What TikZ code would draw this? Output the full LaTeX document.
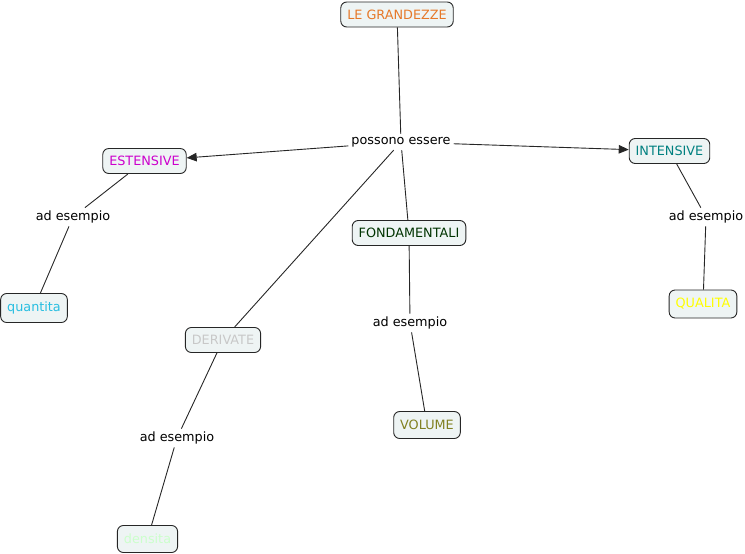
\documentclass[tikz,border=0pt]{standalone}
\usepackage{fontspec}
\setmainfont{DejaVu Sans}
\usepackage{xcolor}
\usepackage{tikz}
\usetikzlibrary{arrows.meta, positioning}

\definecolor{boxfill}{RGB}{238,244,244}
\definecolor{grandezzecol}{RGB}{230,120,40}
\definecolor{estensivecol}{RGB}{204,0,204}
\definecolor{quantitacol}{RGB}{40,190,225}
\definecolor{derivatecol}{RGB}{200,200,200}
\definecolor{densitacol}{RGB}{204,255,204}
\definecolor{fondamcol}{RGB}{0,51,0}
\definecolor{volumecol}{RGB}{128,128,32}
\definecolor{intensivecol}{RGB}{0,128,128}
\definecolor{qualitacol}{RGB}{255,255,0}

\begin{document}
\begin{tikzpicture}[
        x=1pt, y=-1pt,
        concept/.style={
            rectangle, draw=black!85, line width=0.9pt, fill=boxfill,
            rounded corners=6pt, inner xsep=6.5pt,
            minimum height=25pt, font=\fontsize{12.8}{15}\selectfont
        },
        linkword/.style={
            inner sep=3pt, font=\fontsize{12.8}{15}\selectfont
        },
        line/.style={draw=black!85, line width=0.9pt},
        arrow/.style={line, -{Triangle[length=10pt,width=8.5pt]}}
    ]
    \useasboundingbox (0,0) rectangle (745,554);

    % CONCEPTS
    \node[concept, text=grandezzecol] (grandezze) at (397,14.5) {LE GRANDEZZE};
    \node[concept, text=estensivecol] (estensive) at (144.5,161) {ESTENSIVE};
    \node[concept, text=intensivecol] (intensive) at (669.5,151) {INTENSIVE};
    \node[concept, text=fondamcol] (fondamentali) at (409,233) {FONDAMENTALI};
    \node[concept, text=derivatecol] (derivate) at (223,340) {DERIVATE};
    \node[concept, text=quantitacol, minimum height=29pt] (quantita) at (34,308) {quantita};
    \node[concept, text=qualitacol, minimum height=28pt] (qualita) at (703,304) {QUALITA};
    \node[concept, text=volumecol, minimum height=27pt] (volume) at (427,425) {VOLUME};
    \node[concept, text=densitacol, minimum height=27pt] (densita) at (147.5,539) {densita};

    % LINKING PHRASES
    \node[linkword] (possono) at (401,142) {possono essere};
    \node[linkword] (esestensive) at (73,217) {ad esempio};
    \node[linkword] (esfondam) at (410,323) {ad esempio};
    \node[linkword] (esderivate) at (177,438) {ad esempio};
    \node[linkword] (esintensive) at (706,217) {ad esempio};

    % CONNECTORS
    \draw[line] (grandezze) -- (possono);
    \draw[arrow] (possono) -- (estensive);
    \draw[arrow] (possono) -- (intensive);
    \draw[line] (possono) -- (fondamentali);
    \draw[line] (possono) -- (derivate);
    \draw[line] (estensive) -- (esestensive);
    \draw[line] (esestensive) -- (quantita);
    \draw[line] (fondamentali) -- (esfondam);
    \draw[line] (esfondam) -- (volume);
    \draw[line] (derivate) -- (esderivate);
    \draw[line] (esderivate) -- (densita);
    \draw[line] (intensive) -- (esintensive);
    \draw[line] (esintensive) -- (qualita);

\end{tikzpicture}
\end{document}
